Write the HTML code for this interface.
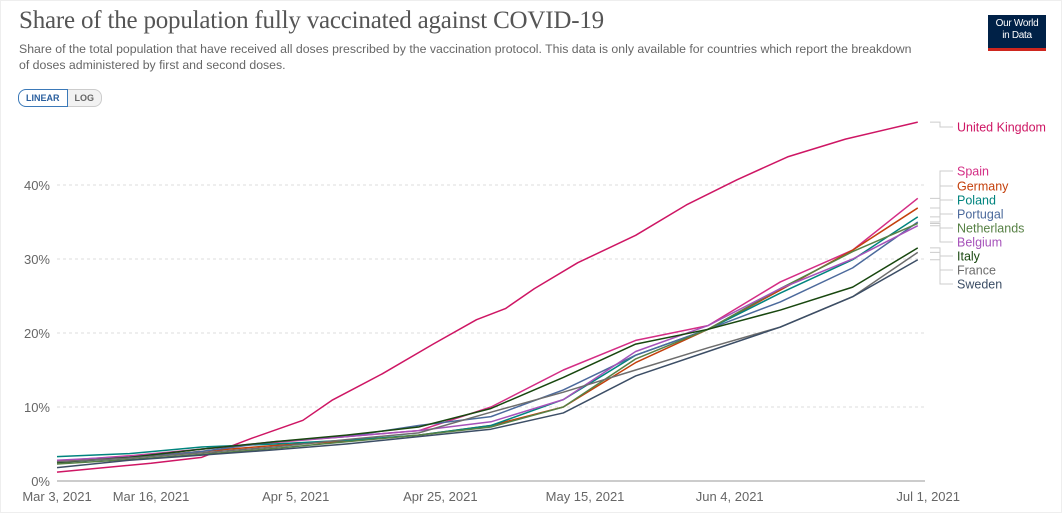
<!DOCTYPE html>
<html><head><meta charset="utf-8"><style>
body{margin:0;background:#fff;width:1062px;height:513px;overflow:hidden;font-family:"Liberation Sans",sans-serif}
.frame{position:absolute;left:0;top:0;width:1060px;height:511px;border:1px solid #eee}
h1{position:absolute;left:19px;top:7px;margin:0;font-family:"Liberation Serif",serif;font-weight:normal;font-size:25px;color:#555;letter-spacing:-0.2px}
.sub{position:absolute;left:19px;top:42px;width:900px;font-size:12.3px;line-height:15.5px;color:#666}
.btns{position:absolute;left:18px;top:89px;display:flex;font-size:9px;font-weight:bold}
.btns div{padding:3px 7px;border:1px solid #ccc;color:#666;background:#f2f2f2}
.btns .on{border:1px solid #3b79b8;color:#2a5f9e;background:#fff;border-radius:8px 0 0 8px}
.btns .off{border-radius:0 8px 8px 0;border-left:none}
.logo{position:absolute;left:988px;top:15px;width:58px;height:30px;background:#002147;color:#fff;font-size:10px;line-height:12px;text-align:center;padding-top:3px;border-bottom:3px solid #ce261e;letter-spacing:-0.3px}
</style></head><body>
<div class="frame"></div>
<h1>Share of the population fully vaccinated against COVID-19</h1>
<div class="sub">Share of the total population that have received all doses prescribed by the vaccination protocol. This data is only available for countries which report the breakdown of doses administered by first and second doses.</div>
<div class="btns"><div class="on">LINEAR</div><div class="off">LOG</div></div>
<div class="logo">Our World<br>in Data</div>
<svg id="chart" width="1062" height="513" style="position:absolute;left:0;top:0"></svg>
<script>
const days=[0,10,20,30,40,50,60,70,80,90,100,110,119];
const ukDays=[0,13,20,27,34,38,45,52,58,62,66,72,80,87,94,101,109,119];
const seriesNames=["United Kingdom","Spain","Germany","Poland","Portugal","Netherlands","Belgium","Italy","France","Sweden"];
const ukValues=[1.2,2.4,3.2,5.8,8.2,10.9,14.5,18.5,21.8,23.3,26,29.5,33.2,37.3,40.7,43.8,46.2,48.5];
const spainValues=[2.7,3.4,4.3,5.2,6.0,6.8,10.0,15,19,21,26.9,31.2,38.2];
const germanyValues=[2.6,3.2,4.0,4.8,5.4,6.2,7.5,10,16,20.5,25.8,31.2,36.9];
const polandValues=[3.3,3.7,4.6,5.0,5.5,6.2,7.5,11,17,20.5,25.4,29.9,35.7];
const portugalValues=[2.5,3.1,4.0,5.3,6.0,7.5,8.7,12.3,17,20.5,24.2,28.8,35];
const netherlandsValues=[2.3,2.9,3.6,4.4,5.3,6.2,7.3,10,16.5,20.5,26,31,34.8];
const belgiumValues=[2.8,3.3,4.3,5.3,6.0,6.8,8.0,11,17.5,21,26,30,34.5];
const italyValues=[2.5,3.2,4.3,5.3,6.2,7.3,9.8,14,18.5,20.5,23.1,26.2,31.5];
const franceValues=[2.6,3.1,3.8,4.6,5.6,6.5,9.3,12,15,18,20.8,24.9,30.9];
const swedenValues=[1.8,2.8,3.5,4.2,5.0,6.0,7.0,9.2,14.2,17.5,20.8,24.9,29.9];
const yTicks=[0,10,20,30,40];
const xTickDays=[0,13,33,53,73,93,120];
const xTickLabels=["Mar 3, 2021","Mar 16, 2021","Apr 5, 2021","Apr 25, 2021","May 15, 2021","Jun 4, 2021","Jul 1, 2021"];

const allValues=[ukValues,spainValues,germanyValues,polandValues,portugalValues,netherlandsValues,belgiumValues,italyValues,franceValues,swedenValues];
const colors=["#ce1664","#d42d85","#c4400c","#00847e","#4c6a9c","#578145","#a652ba","#18470f","#6d6d6d","#3c4e66"];
const labelY=[127,171,186,200,214,228,242,256,270,284];
const X=d=>57+d*(868/120), Y=v=>481-v*7.4;
const svg=document.getElementById('chart'),NS="http://www.w3.org/2000/svg";
function mk(t,a){const e=document.createElementNS(NS,t);for(const k in a)e.setAttribute(k,a[k]);svg.appendChild(e);return e;}
yTicks.forEach(v=>{
  const g=mk('line',{x1:57,x2:925,y1:Y(v),y2:Y(v),stroke:v===0?'#999':'#ddd','stroke-dasharray':v===0?'':'3,3'});
  
  
  const t=mk('text',{x:50,y:Y(v)+5,'text-anchor':'end','font-size':13,fill:'#666'});
  t.textContent=v+'%';
  
  
});
xTickDays.forEach((d,i)=>{
  const t=mk('text',{x:X(d),y:501,'text-anchor':i===xTickDays.length-1?'end':'middle','font-size':13,fill:'#666'});
  if(i===xTickDays.length-1)t.setAttribute('x',X(d)+35);
  t.textContent=xTickLabels[i];
  
  
});
allValues.forEach((vals,s)=>{
  const dd=s===0?ukDays:days;
  const p=mk('polyline',{points:vals.map((v,i)=>X(dd[i])+','+Y(v)).join(' '),fill:'none',stroke:colors[s],'stroke-width':1.5,'stroke-linejoin':'round'});
  
  
  const ey=Y(vals[vals.length-1]),ly=labelY[s];
  const c=mk('polyline',{points:`930,${ey} 940,${ey} 940,${ly} 953,${ly}`,fill:'none',stroke:'#ccc','stroke-width':1});
  
  
  const t=mk('text',{x:957,y:labelY[s]+4.5,'font-size':12.5,fill:colors[s]});
  t.textContent=seriesNames[s];
  
  
});
</script>
</body></html>
